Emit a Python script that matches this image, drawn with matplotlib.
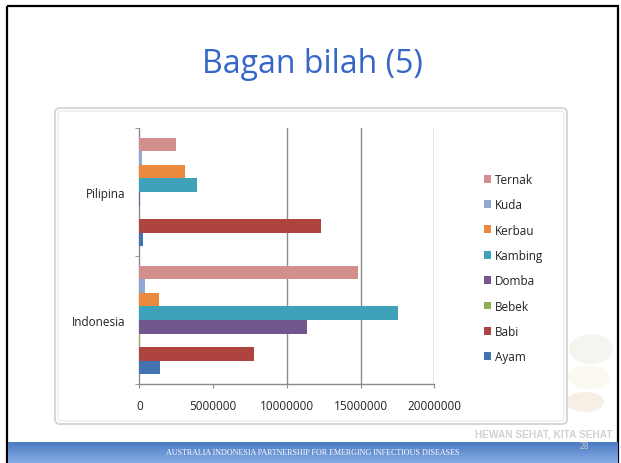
import numpy as np
import matplotlib.pyplot as plt
from matplotlib.patches import Rectangle, FancyBboxPatch, Ellipse
from matplotlib.colors import LinearSegmentedColormap

# data (approximate)
countries = ['Indonesia', 'Pilipina']
series = ['Ayam', 'Babi', 'Bebek', 'Domba', 'Kambing', 'Kerbau', 'Kuda', 'Ternak']
ayam = [1430000, 230000]
babi = [7800000, 12330000]
bebek = [40000, 10000]
domba = [11360000, 30000]
kambing = [17570000, 3890000]
kerbau = [1360000, 3100000]
kuda = [390000, 200000]
ternak = [14860000, 2490000]
x_ticks = [0, 5000000, 10000000, 15000000, 20000000]

values = [ayam, babi, bebek, domba, kambing, kerbau, kuda, ternak]
colors = ['#4372B0', '#AD4440', '#8FB050', '#72578F', '#3FA2BB', '#EB8A3E', '#8FA9D3', '#D38F8D']

W, H = 621, 464
fig = plt.figure(figsize=(W / 100, H / 100), dpi=100)
fig.patch.set_facecolor('white')

# slide background layer in pixel coordinates
bg = fig.add_axes([0, 0, 1, 1])
bg.axis('off')

bg.add_patch(Rectangle((7, 7), 611, 470, fill=False, ec='black', lw=1.6))

# faint logo at bottom right
bg.add_patch(Ellipse((591, 350), 44, 30, color='#F3F6EE', lw=0))
bg.add_patch(Ellipse((589, 378), 42, 24, color='#FCF9F1', lw=0))
bg.add_patch(Ellipse((585, 403), 38, 20, color='#F6EFE5', lw=0))
bg.text(544, 435, 'HEWAN SEHAT, KITA SEHAT', ha='center', va='center',
        fontsize=7.3, color='#D2D2D2', fontweight='bold', family='Liberation Sans')

# chart frame
bg.add_patch(FancyBboxPatch((55, 109), 512, 316, boxstyle='round,pad=0,rounding_size=5',
                            fc='white', ec='#D3D3D3', lw=1.3))
bg.add_patch(FancyBboxPatch((58, 112), 506, 310, boxstyle='round,pad=0,rounding_size=3',
                            fill=False, ec='#E6E6E6', lw=0.8))

# footer band with gradient
grad = np.linspace(0, 1, 50).reshape(-1, 1)
cmap = LinearSegmentedColormap.from_list('ft', ['#4C7BC4', '#86ACE3'])
bg.imshow(grad, cmap=cmap, extent=(8, 618, 464, 443), aspect='auto', zorder=2)
bg.set_xlim(0, W)
bg.set_ylim(H, 0)
bg.text(313, 453.5, 'AUSTRALIA INDONESIA PARTNERSHIP FOR EMERGING INFECTIOUS DISEASES',
        ha='center', va='center', fontsize=5.8, color='white', family='Liberation Serif', zorder=3)
bg.text(584, 447, '28', ha='center', va='center', fontsize=5.5, color='#C8C8C8', zorder=3)

# title
bg.text(312, 73, 'Bagan bilah (5)', ha='center', va='baseline', fontsize=23,
        color='#3566C8', family='Open Sans')

# the bar chart
ax = fig.add_axes([139.3 / W, 1 - 385 / H, 295 / W, 256 / H])
ax.set_facecolor('none')
y = np.arange(len(countries))
h = 0.106
for i, (name, vals, c) in enumerate(zip(series, values, colors)):
    ax.barh(y + (i - 3.5) * h, vals, height=h, color=c, label=name, zorder=3)

ax.set_xlim(0, 20000000)
ax.set_ylim(-0.5, 1.5)
ax.set_xticks(x_ticks)
ax.set_xticklabels([str(t) for t in x_ticks])
for t in x_ticks[2:]:
    ax.axvline(t, color='#8C8C8C', lw=1, zorder=1)
ax.set_yticks(y)
ax.set_yticklabels(countries)
ax.set_yticks([-0.5, 0.5, 1.5], minor=True)

for s in ['top', 'right']:
    ax.spines[s].set_visible(False)
for s in ['left', 'bottom']:
    ax.spines[s].set_color('#8C8C8C')
    ax.spines[s].set_linewidth(1)

ax.tick_params(axis='x', length=3, color='#8C8C8C', pad=7.5, labelsize=8.5, labelcolor='#222222')
ax.tick_params(axis='y', which='major', length=0, pad=10, labelsize=8.5, labelcolor='#222222')
ax.tick_params(axis='y', which='minor', length=3, color='#8C8C8C')
for lab in ax.get_xticklabels() + ax.get_yticklabels():
    lab.set_family('Open Sans')

handles, labels = ax.get_legend_handles_labels()
leg = fig.legend(handles[::-1], labels[::-1], loc='upper left',
                 bbox_to_anchor=(479 / W, 1 - 169 / H), frameon=False,
                 prop={'family': 'Open Sans', 'size': 8.5},
                 handlelength=0.65, handleheight=0.65, handletextpad=0.3,
                 labelspacing=1.05, borderaxespad=0)
for t in leg.get_texts():
    t.set_color('#222222')

fig.savefig('out.png', dpi=100)
